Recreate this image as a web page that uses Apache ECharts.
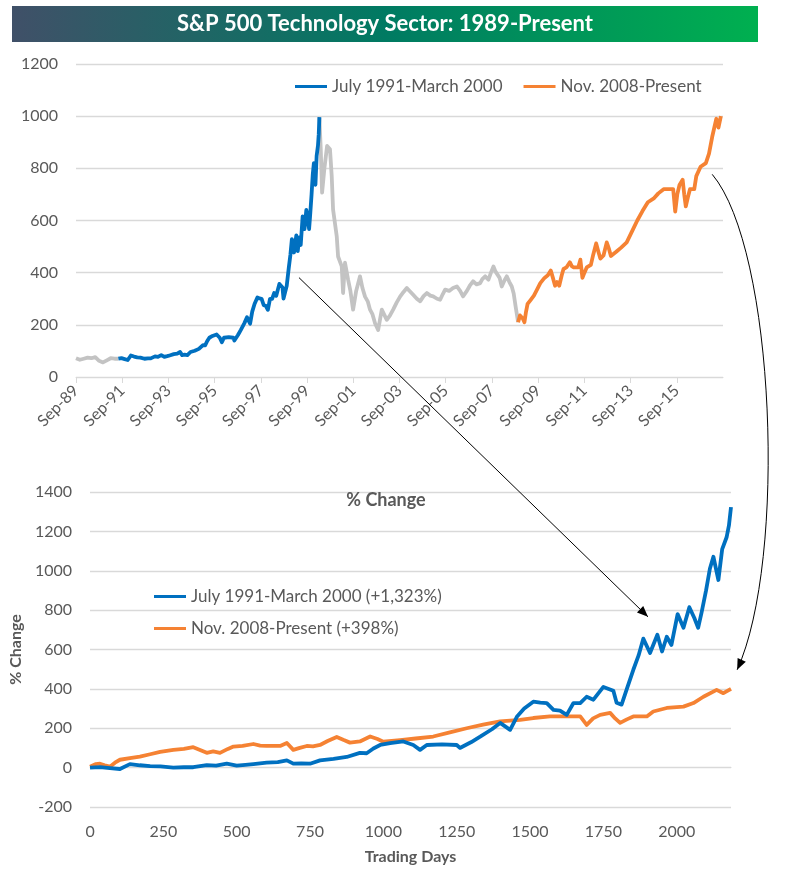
<!DOCTYPE html>
<html>
<head>
<meta charset="utf-8">
<script src="https://cdn.jsdelivr.net/npm/echarts@6/dist/echarts.min.js"></script>
<style>html,body{margin:0;padding:0;background:#fff}#c{width:785px;height:875px}</style>
</head>
<body>
<div id="c"></div>
<script>
// ---------- DATA ----------
// Top chart x = months since Sep 1989
const topTickLabelsStartYear = 1989;
// Gray segment 1 (Sep 1989 - Jul 1991): [month, index level]
const gray1 = [[0,72],[1,70],[2,66],[3,69],[4,70],[5,72],[6,74],[7,70],[8,72],[9,78],[10,76],[11,70],[12,62],[13,58],[14,56],[15,62],[16,64],[17,68],[18,72],[19,68],[20,70],[21,73],[22,70]];
// Gray segment 2 (Mar 2000 - Nov 2008): [month, index level]
const gray2 = [[126.4,995],[127.1,873],[127.8,707],[129,800],[130.4,886],[131.9,873],[132.8,770],[133.5,642],[135.4,540],[136.1,462],[138,424],[138.7,322],[139.7,438],[141.3,373],[142.5,330],[143.9,258],[145.5,330],[147.5,386],[148.8,340],[150.1,308],[151.5,290],[152.7,258],[154,240],[155.3,206],[156.9,180],[158.8,258],[160,240],[161.4,219],[163,235],[164.7,258],[166.5,285],[168.3,308],[170,325],[171.8,341],[173.5,328],[175.1,315],[177,300],[178.7,290],[180.5,310],[182.2,322],[184,312],[185.5,309],[187.5,300],[189.1,296],[190.5,318],[191.7,335],[193.8,330],[195.8,341],[197.8,347],[199.5,330],[201,309],[203,330],[204.5,350],[206.2,367],[208,355],[209.9,360],[211,375],[212.5,386],[214.2,373],[215.5,400],[216.8,424],[217.8,405],[218.5,412],[220,380],[221.1,347],[222.5,370],[223.7,386],[225,365],[226.3,347],[227.3,320],[228.3,270],[229.6,210]];
// Blue period (Jul 1991 - Mar 2000): start level and % change by trading day
const blueStartLevel = 70;
const blueStartMonth = 22, blueEndMonth = 126.4;
const blueDays = [0,34,68,102,136,170,205,240,284,320,352,398,430,466,500,530,557,602,640,671,693,720,750,784,830,875,920,943,966,989,1023,1068,1102,1125,1148,1200,1250,1261,1300,1330,1370,1398,1432,1455,1480,1511,1535,1557,1580,1602,1625,1648,1671,1693,1716,1750,1784,1795,1812,1830,1852,1870,1886,1909,1934,1950,1966,1982,2003,2023,2043,2060,2073,2085,2100,2113,2125,2142,2155,2170,2178,2185];
const bluePct  = [0,3,-2,-7,18,12,8,6,0,2,2,13,10,20,10,14,18,25,28,37,20,22,20,37,44,54,75,73,97,115,125,133,115,90,115,118,115,100,130,157,195,227,192,258,300,335,330,328,293,290,268,328,328,360,345,410,390,330,320,400,497,570,655,582,675,590,665,623,780,710,815,760,710,790,900,1010,1071,953,1110,1170,1230,1323];
// Orange period (Nov 2008 - Present)
const orangeStartLevel = 200;
const orangeStartMonth = 229.6, orangeEndMonth = 334.9;
const orangeDays = [0,20,34,50,68,85,102,136,170,205,239,284,320,352,375,398,420,443,470,489,520,557,580,602,648,671,693,715,739,760,784,810,841,865,886,920,955,980,1000,1057,1110,1170,1230,1284,1340,1398,1466,1511,1568,1625,1671,1693,1715,1739,1773,1790,1807,1830,1852,1898,1920,1966,2023,2057,2091,2136,2159,2185];
const orangePct  = [5,18,20,12,5,25,40,48,56,68,80,90,95,104,90,75,82,75,95,107,110,120,112,110,110,125,90,100,110,108,115,135,156,140,127,133,158,145,132,140,148,158,180,200,218,235,243,252,260,260,260,217,250,268,278,250,227,245,260,260,285,303,310,328,360,395,378,400];
const totalDays = 2185;

const seriesNames = ['July 1991-March 2000','Nov. 2008-Present'];
const bottomNames = ['July 1991-March 2000 (+1,323%)','Nov. 2008-Present (+398%)'];

// ---------- BUILD ----------
const blueTop = blueDays.map((d,i)=>[blueStartMonth + d/totalDays*(blueEndMonth-blueStartMonth), blueStartLevel*(1+bluePct[i]/100)]);
const orangeTop = orangeDays.map((d,i)=>[orangeStartMonth + d/totalDays*(orangeEndMonth-orangeStartMonth), orangeStartLevel*(1+orangePct[i]/100)]);
const blueBottom = blueDays.map((d,i)=>[d,bluePct[i]]);
const orangeBottom = orangeDays.map((d,i)=>[d,orangePct[i]]);

const BLUE='#0070c0', ORANGE='#f58233', GRAY='#c3c3c3', TXT='#595959', GRID='#d9d9d9';
const FONT='Lato';

const chart = echarts.init(document.getElementById('c'), null, {renderer:'canvas'});
function lineSeries(name, data, color, xi, w){
  return {name, type:'line', data, xAxisIndex:xi, yAxisIndex:xi, showSymbol:false, symbol:'none',
    lineStyle:{color, width:w, join:'round'}, itemStyle:{color}, animation:false, z: 3};
}
const plain = v => String(v);
const option = {
  animation:false,
  textStyle:{fontFamily:FONT},
  grid:[
    {left:76, top:64, width:647, height:313},
    {left:90, top:492, width:641, height:315}
  ],
  legend:[
    {data:seriesNames, left:295, top:78, padding:0, icon:'rect', itemWidth:32, itemHeight:3, itemGap:21,
     textStyle:{color:TXT, fontSize:17, fontFamily:FONT}},
    {data:bottomNames, orient:'vertical', left:154, top:587, padding:0, icon:'rect', itemWidth:32, itemHeight:3, itemGap:13,
     textStyle:{color:TXT, fontSize:17, fontFamily:FONT, lineHeight:19}}
  ],
  xAxis:[
    {type:'value', gridIndex:0, min:0, max:336, interval:24,
     axisLine:{show:true, lineStyle:{color:GRID}}, axisTick:{show:true, length:6, lineStyle:{color:GRID}},
     splitLine:{show:false},
     axisLabel:{rotate:45, margin:11, color:TXT, fontSize:16, fontFamily:FONT, showMaxLabel:false,
       formatter:v=>{const y=topTickLabelsStartYear+Math.floor((8+v)/12); return 'Sep-'+String(y%100).padStart(2,'0');}}},
    {type:'value', gridIndex:1, min:0, max:totalDays, interval:250,
     name:'Trading Days', nameLocation:'middle', nameGap:42,
     nameTextStyle:{color:TXT, fontSize:16, fontWeight:'bold', fontFamily:FONT},
     axisLine:{show:true, lineStyle:{color:GRID}}, axisTick:{show:false}, splitLine:{show:false},
     axisLabel:{margin:17, color:TXT, fontSize:16, fontFamily:FONT, showMaxLabel:false, formatter:plain}}
  ],
  yAxis:[
    {type:'value', gridIndex:0, min:0, max:1200, interval:200,
     axisLine:{show:false}, axisTick:{show:false},
     splitLine:{lineStyle:{color:GRID, width:1.3}},
     axisLabel:{margin:18, color:TXT, fontSize:16, fontFamily:FONT, formatter:plain}},
    {type:'value', gridIndex:1, min:-200, max:1400, interval:200,
     name:'% Change', nameLocation:'middle', nameGap:60, nameRotate:90,
     nameTextStyle:{color:TXT, fontSize:16, fontWeight:'bold', fontFamily:FONT},
     axisLine:{show:false}, axisTick:{show:false},
     splitLine:{lineStyle:{color:GRID, width:1.3}},
     axisLabel:{margin:18, color:TXT, fontSize:16, fontFamily:FONT, formatter:plain}}
  ],
  series:[
    lineSeries('gray-a', gray1, GRAY, 0, 3.8),
    lineSeries('gray-b', gray2, GRAY, 0, 3.8),
    lineSeries(seriesNames[0], blueTop, BLUE, 0, 3.8),
    lineSeries(seriesNames[1], orangeTop, ORANGE, 0, 3.8),
    lineSeries(bottomNames[1], orangeBottom, ORANGE, 1, 3.8),
    lineSeries(bottomNames[0], blueBottom, BLUE, 1, 3.8)
  ]
};
chart.setOption(option);

// ---------- ANNOTATIONS ----------
function head(tip, from){
  const dx=tip[0]-from[0], dy=tip[1]-from[1], L=Math.hypot(dx,dy), ux=dx/L, uy=dy/L;
  const len=11, w=4.5, bx=tip[0]-ux*len, by=tip[1]-uy*len;
  return {type:'polygon', z:100, shape:{points:[tip,[bx-uy*w,by+ux*w],[bx+uy*w,by-ux*w]]}, style:{fill:'#000'}};
}
const a1s = chart.convertToPixel({gridIndex:0},[115.8,381]);
const a1e = chart.convertToPixel({gridIndex:1},[1902,766]);
const a2s = chart.convertToPixel({gridIndex:0},[330.4,777]);
const a2e = chart.convertToPixel({gridIndex:1},[2206,497]);
const c1 = [a2s[0]+63, a2s[1]+75], c2 = [a2e[0]+50, a2e[1]-110];
chart.setOption({graphic:[
  {type:'rect', z:0, shape:{x:12,y:6,width:746,height:36},
   style:{fill:new echarts.graphic.LinearGradient(0,0,1,0,[{offset:0,color:'#405068'},{offset:0.5,color:'#007a62'},{offset:1,color:'#00b050'}])}},
  {type:'text', z:1, style:{text:'S&P 500 Technology Sector: 1989-Present', x:385, y:24, textAlign:'center', textVerticalAlign:'middle',
   fill:'#fff', font:'bold 22px Lato'}},
  {type:'text', z:1, style:{text:'% Change', x:386, y:500, textAlign:'center', textVerticalAlign:'middle',
   fill:TXT, font:'bold 18px Lato'}},
  {type:'line', z:100, shape:{x1:a1s[0],y1:a1s[1],x2:a1e[0],y2:a1e[1]}, style:{stroke:'#000', lineWidth:1}},
  head(a1e, a1s),
  {type:'bezierCurve', z:100, shape:{x1:a2s[0],y1:a2s[1],x2:a2e[0],y2:a2e[1],cpx1:c1[0],cpy1:c1[1],cpx2:c2[0],cpy2:c2[1]},
   style:{stroke:'#000', lineWidth:1, fill:null}},
  head(a2e, c2)
]});
</script>
</body>
</html>
